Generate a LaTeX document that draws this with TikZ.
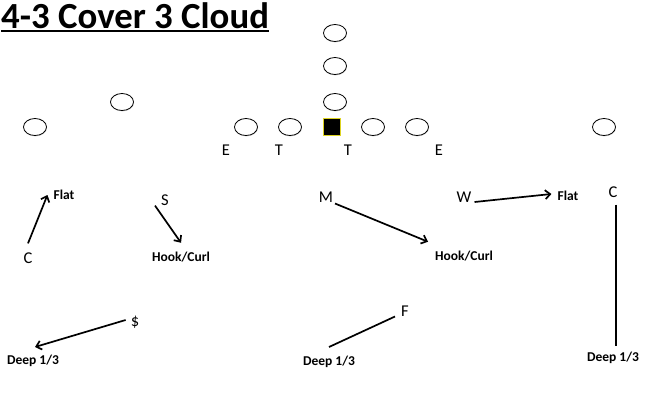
\documentclass[tikz,border=0pt]{standalone}
\usepackage{fontspec}
\setmainfont{Carlito}
\usetikzlibrary{arrows.meta,shapes.geometric,shadows}
\begin{document}
\begin{tikzpicture}[
    x=1pt, y=-1pt,
    player/.style={draw, thick, fill=white, ellipse, inner sep=0pt,
                   minimum width=23pt, minimum height=17pt,
                   drop shadow={shadow xshift=0.4pt, shadow yshift=-0.9pt, opacity=0.35}},
    centerbox/.style={draw=yellow!85!black, thick, fill=black, inner sep=0pt, minimum size=17pt},
    defender/.style={inner sep=0pt, font=\fontsize{16.5}{18}\selectfont},
    zone/.style={inner sep=0pt, font=\fontsize{13.5}{15}\selectfont\bfseries},
    route/.style={-{Straight Barb[length=5pt,width=9pt]}, line width=1.7pt},
    drop/.style={line width=1.7pt},
  ]
    \useasboundingbox (0,0) rectangle (652,407);
    \node[inner sep=0pt, anchor=west, font=\fontsize{36.8}{40}\selectfont\bfseries] (title) at (1,15.5) {4-3 Cover 3 Cloud};
    \draw[line width=1.7pt] ([yshift=-2pt]title.south west) -- ([yshift=-2pt]title.south east);

    \node[player] (wrL) at (35,127) {};
    \node[player] (slot) at (122,102) {};
    \node[player] (tackleL) at (246,127) {};
    \node[player] (guardL) at (290,127) {};
    \node[centerbox] (ball) at (332,127) {};
    \node[player] (guardR) at (373,127) {};
    \node[player] (tackleR) at (417,127) {};
    \node[player] (wrR) at (604,127) {};
    \node[player] (qb) at (335,102) {};
    \node[player] (fb) at (335,66) {};
    \node[player] (hb) at (335,33) {};

    \node[defender] (endL) at (226,150) {E};
    \node[defender] (dtL) at (279,150) {T};
    \node[defender] (dtR) at (348,150) {T};
    \node[defender] (endR) at (439,150) {E};
    \node[defender] (cornerL) at (28,258) {C};
    \node[defender] (sam) at (165,200) {S};
    \node[defender] (mike) at (326,197) {M};
    \node[defender] (will) at (464,197) {W};
    \node[defender] (cornerR) at (613,192) {C};
    \node[defender] (strong) at (135,322) {\$};
    \node[defender] (free) at (405,311) {F};

    \node[zone] (flatL) at (64,195) {Flat};
    \node[zone] (hookL) at (181,257) {Hook/Curl};
    \node[zone] (hookR) at (464,256) {Hook/Curl};
    \node[zone] (flatR) at (568,196) {Flat};
    \node[zone] (deepL) at (33,361) {Deep 1/3};
    \node[zone] (deepM) at (329,362) {Deep 1/3};
    \node[zone] (deepR) at (613,358) {Deep 1/3};

    \draw[route] ([yshift=9pt]cornerL.north) -- ([xshift=-6pt,yshift=0pt]flatL.west);
    \draw[route] ([xshift=-10pt,yshift=-0pt]sam.south) -- ([yshift=9pt]hookL.north);
    \draw[route] ([xshift=9pt,yshift=-1pt]mike.south) -- ([xshift=-36pt,yshift=9pt]hookR.north);
    \draw[route] ([xshift=3pt,yshift=-5pt]will.east) -- ([xshift=-6pt,yshift=2pt]flatR.west);
    \draw[route] ([xshift=-5pt,yshift=2pt]strong.west) -- ([xshift=2pt,yshift=8pt]deepL.north);
    \draw[drop] ([xshift=-10pt,yshift=-0pt]free.south) -- ([yshift=9pt]deepM.north);
    \draw[drop] ([xshift=3pt,yshift=-7pt]cornerR.south) -- ([xshift=3pt,yshift=6pt]deepR.north);
\end{tikzpicture}
\end{document}
